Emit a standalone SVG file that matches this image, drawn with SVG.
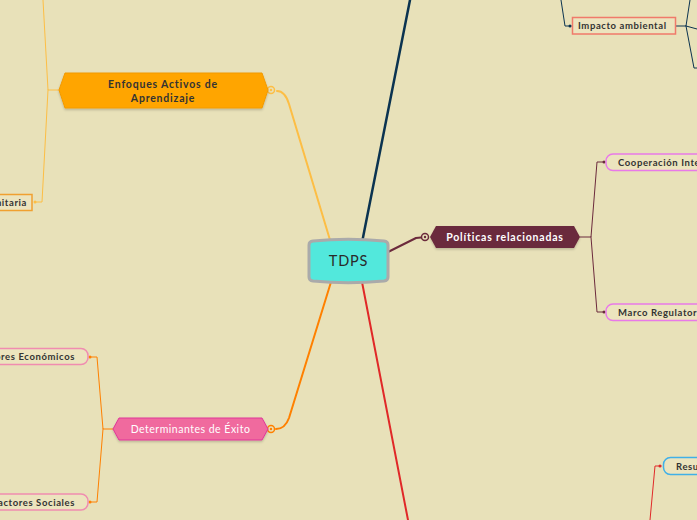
<svg xmlns="http://www.w3.org/2000/svg" width="697" height="520" viewBox="0 0 697 520">
<defs>
<style>
.t{font-family:"Lato","Noto Sans","Liberation Sans",sans-serif;fill:#333;font-weight:bold;font-size:9.5px;letter-spacing:0.6px}
.h{font-size:10.5px;letter-spacing:0.8px}
.w{fill:#fff}
.c{fill:none;stroke-linecap:round;stroke-linejoin:round}
.box{fill:#ECE4BE}
</style>
<filter id="sh" x="-10%" y="-20%" width="120%" height="150%"><feDropShadow dx="0" dy="1.5" stdDeviation="1" flood-color="#000" flood-opacity="0.2"/></filter>
</defs>
<rect width="697" height="520" fill="#E8E1B9"/>
<g id="connectors">
<path class="c" d="M362.5,240 L410,0" stroke="#0B3350" stroke-width="2.5"/>
<path class="c" d="M330,240 L289,104 Q285,91 277,91" stroke="#FDBE45" stroke-width="2"/>
<path class="c" d="M331,282 L289,418 Q285,429 276,429" stroke="#FF8000" stroke-width="2"/>
<path class="c" d="M362,282 L408,520" stroke="#E02828" stroke-width="2"/>
<path class="c" d="M388,252 L416,238 L421,237.5" stroke="#6B2A3C" stroke-width="2"/>
<circle cx="271" cy="90" r="3.5" fill="none" stroke="#FDBE45" stroke-width="1.5"/>
<circle cx="271" cy="90" r="1.2" fill="#FDBE45"/>
<circle cx="271" cy="429" r="3.5" fill="none" stroke="#FF8000" stroke-width="1.5"/>
<circle cx="271" cy="429" r="1.2" fill="#FF8000"/>
<circle cx="425" cy="237" r="3.5" fill="none" stroke="#6B2A3C" stroke-width="1.5"/>
<circle cx="425" cy="237" r="1.2" fill="#6B2A3C"/>
<path class="c" d="M43,0 L48,90 L59,90 M48,90 L42,202 L35,202" stroke="#FDBE45" stroke-width="1"/>
<circle cx="35" cy="202" r="1.5" fill="#FDBE45"/>
<path class="c" d="M113,429 L103,429 L97,357 L90,357 M103,429 L97,502 L90,502" stroke="#FF8000" stroke-width="1"/>
<circle cx="90" cy="357" r="1.5" fill="#FF8000"/>
<circle cx="90" cy="502" r="1.5" fill="#FF8000"/>
<path class="c" d="M580,237 L591,237 L597,162 L605,162 M591,237 L597,312 L605,312" stroke="#6B2A3C" stroke-width="1"/>
<circle cx="604" cy="162" r="1.5" fill="#6B2A3C"/>
<circle cx="604" cy="312" r="1.5" fill="#6B2A3C"/>
<path class="c" d="M561,0 L565,26 L571,26" stroke="#0B3350" stroke-width="1"/>
<circle cx="570" cy="26" r="1.5" fill="#0B3350"/>
<path class="c" d="M676,26 L686,26 L690,0 M686,26 L697,29 M686,26 L694,68 L697,68" stroke="#0B3350" stroke-width="1"/>
<path class="c" d="M650,520 L655,466 L661,466" stroke="#E02828" stroke-width="1"/>
<circle cx="660" cy="466" r="1.5" fill="#E02828"/>
</g>
<g id="tdps">
<path d="M313,241 Q348,237.5 384,241 Q388,241.5 388,245 L388,277 Q388,280.5 384,281 Q348,284.5 313,281 Q309,280.5 309,277 L309,245 Q309,241.5 313,241 Z" fill="#52E8DC" stroke="#AAAAAA" stroke-width="3" stroke-linejoin="round"/>
<text x="348.5" y="266" text-anchor="middle" style="font-family:'Lato','Noto Sans',sans-serif;font-size:14.5px;letter-spacing:0.8px;fill:#2a2a2a">TDPS</text>
</g>
<g id="enfoques">
<path d="M65,73 L262,73 L268,90 L262,108 L65,108 L59,90 Z" fill="#FFA500" stroke="#F29A00" stroke-width="1" filter="url(#sh)"/>
<text class="t h" x="163" y="88" text-anchor="middle">Enfoques Activos de</text>
<text class="t h" x="163" y="101.5" text-anchor="middle">Aprendizaje</text>
</g>
<g id="comunitaria">
<rect x="-20" y="194.5" width="52" height="16" class="box" stroke="#F0A030" stroke-width="1.5"/>
<text class="t" x="27" y="206" text-anchor="end">Comunitaria</text>
</g>
<g id="determinantes">
<path d="M119,418 L262,418 L268,429 L262,440 L119,440 L113,429 Z" fill="#F06A9E" stroke="#E0369A" stroke-width="1" filter="url(#sh)"/>
<text class="t h w" x="190.5" y="433" text-anchor="middle" style="font-weight:normal;letter-spacing:0.5px">Determinantes de Éxito</text>
</g>
<g id="economicos">
<rect x="-30" y="348.5" width="118" height="16" rx="7" class="box" stroke="#F08CB0" stroke-width="1.5"/>
<text class="t" x="75" y="360" text-anchor="end">Factores Económicos</text>
</g>
<g id="sociales">
<rect x="-30" y="494" width="118" height="16" rx="7" class="box" stroke="#F08CB0" stroke-width="1.5"/>
<text class="t" x="75" y="506" text-anchor="end">Factores Sociales</text>
</g>
<g id="politicas">
<path d="M436,226 L574,226 L580,237 L574,248 L436,248 L430,237 Z" fill="#6B2A3C" filter="url(#sh)"/>
<text class="t h w" x="505" y="241" text-anchor="middle">Políticas relacionadas</text>
</g>
<g id="cooperacion">
<rect x="606" y="154" width="150" height="16.5" rx="7" class="box" stroke="#E879E8" stroke-width="1.5"/>
<text class="t" x="618" y="166">Cooperación Internacional</text>
</g>
<g id="marco">
<rect x="606" y="304" width="130" height="16.5" rx="7" class="box" stroke="#E879E8" stroke-width="1.5"/>
<text class="t" x="618" y="315.5">Marco Regulatorio</text>
</g>
<g id="impacto">
<rect x="572.5" y="17.5" width="103" height="16.5" class="box" stroke="#F07A6A" stroke-width="1.5"/>
<text class="t" x="578" y="29">Impacto ambiental</text>
</g>
<g id="resultados">
<rect x="663.5" y="457.5" width="80" height="17" rx="7" class="box" stroke="#40B0E8" stroke-width="1.5"/>
<text class="t" x="676" y="469.5">Resultados</text>
</g>
</svg>
